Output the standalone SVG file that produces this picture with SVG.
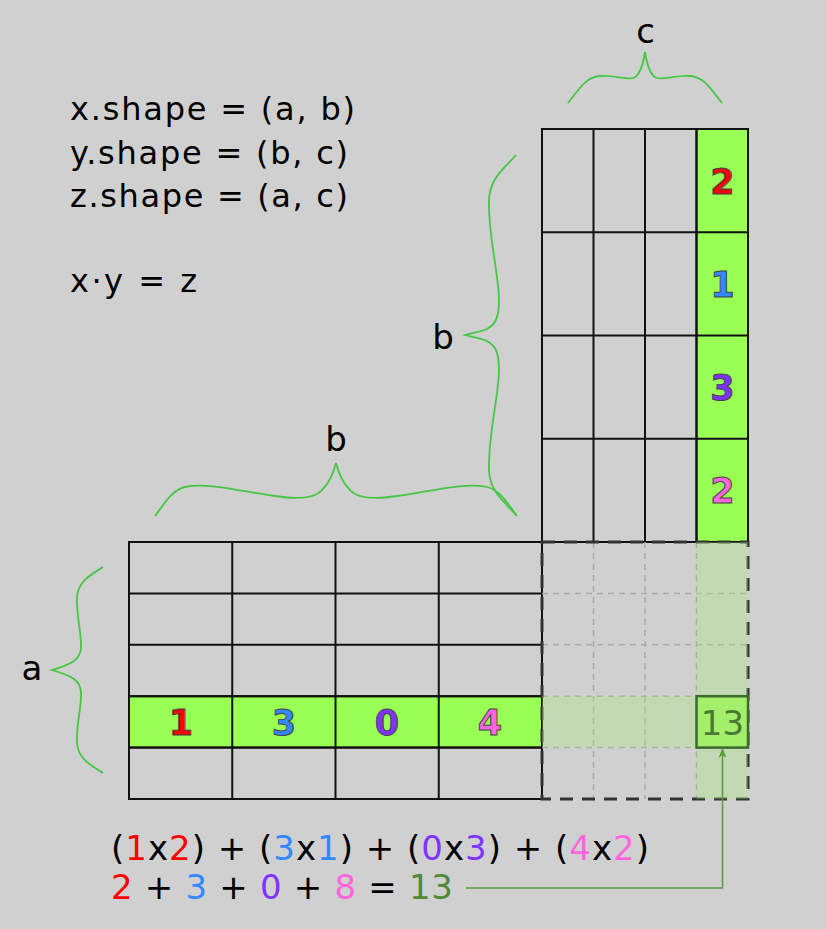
<svg xmlns="http://www.w3.org/2000/svg" width="826" height="929" viewBox="0 0 826 929">
<style>
.t{font-family:"DejaVu Sans","Verdana","Liberation Sans",sans-serif;fill:#000}
.big{font-size:32px}
.lbl{font-size:34px;text-anchor:middle}
.num{font-family:"DejaVu Sans","Verdana",sans-serif;font-weight:bold;font-size:35px;text-anchor:middle;stroke:#444;stroke-width:1}
.grid{stroke:#111;stroke-width:2;fill:none}
.cellg{fill:#99ff55;stroke:#111;stroke-width:2}
.brace{fill:none;stroke:#44c844;stroke-width:1.8}
.inner{stroke:#a9a9a9;stroke-width:1.5;stroke-dasharray:6 5;fill:none}
.hl{fill:#a5ee73;fill-opacity:0.3}
.r{fill:#ff0000}.b{fill:#3388ff}.p{fill:#7f33ff}.k{fill:#ff66dd}.g{fill:#4f8a35}
</style>
<defs>
<marker id="arr" markerWidth="10" markerHeight="12" refX="9" refY="5" orient="auto" markerUnits="userSpaceOnUse">
<path d="M0,1 L10,5 L0,9 L3,5 Z" fill="#5a9a3a"/>
</marker>
</defs>
<rect x="0" y="0" width="826" height="929" fill="#d0d0d0"/>

<g id="shapes-text">
<text class="t big" x="70" y="120" textLength="285">x.shape = (a, b)</text>
<text class="t big" x="70" y="163.5" textLength="278">y.shape = (b, c)</text>
<text class="t big" x="70" y="207" textLength="278">z.shape = (a, c)</text>
<text class="t big" x="70" y="292" textLength="127">x·y = z</text>
</g>

<g id="brace-c">
<path class="brace" d="M568,103 C580,88 586,77 600,76 C615,75 625,80 633,78 C640,76 643,65 645,52 C647,65 650,76 657,78 C665,80 675,75 690,76 C704,77 710,88 722,103"/>
<text class="t lbl" x="645.5" y="43">c</text>
</g>

<g id="brace-b-top">
<path class="brace" d="M155,516 C165,503 172,490 185,487 C205,482 240,491 275,496 C300,500 315,498 322,490 C328,484 333,475 336,463 C339,475 344,484 350,490 C357,498 372,500 397,496 C432,491 467,482 487,487 C500,490 507,503 517,516"/>
<text class="t lbl" x="336" y="451">b</text>
</g>

<g id="brace-b-left">
<path class="brace" d="M516,155 C503,170 490,178 489,200 C488,235 499,275 499,300 C499,320 494,325 487,329 C480,332 472,333 465,335 C472,337 480,338 487,341 C494,345 499,350 499,370 C499,395 488,435 489,470 C490,492 503,500 516,515"/>
<text class="t lbl" x="443" y="349">b</text>
</g>

<g id="brace-a">
<path class="brace" d="M103,567 C90,575 78,582 77,597 C76,615 82,635 81,648 C80,660 72,664 52,670 C72,676 80,680 81,692 C82,705 76,725 77,743 C78,758 90,765 103,773"/>
<text class="t lbl" x="32" y="680">a</text>
</g>

<g id="matrix-x">
<rect class="grid" x="129" y="542" width="413" height="257"/>
<rect class="cellg" x="129" y="696.2" width="413" height="51.4"/>
<path class="grid" d="M232.25,542V799M335.5,542V799M438.75,542V799M129,593.4H542M129,644.8H542M129,696.2H542M129,747.6H542"/>
<text class="num r" x="181" y="735">1</text>
<text class="num b" x="284" y="735">3</text>
<text class="num p" x="387" y="735">0</text>
<text class="num k" x="490" y="735">4</text>
</g>

<g id="matrix-y">
<rect class="grid" x="542" y="129" width="206" height="413"/>
<rect class="cellg" x="696.5" y="129" width="51.5" height="413"/>
<path class="grid" d="M593.5,129V542M645,129V542M696.5,129V542M542,232.25H748M542,335.5H748M542,438.75H748"/>
<text class="num r" x="722.5" y="194">2</text>
<text class="num b" x="722.5" y="297">1</text>
<text class="num p" x="722.5" y="400">3</text>
<text class="num k" x="722.5" y="503">2</text>
</g>

<g id="matrix-z">
<path class="inner" d="M593.5,542V799M645,542V799M696.5,542V799M542,593.4H748M542,644.8H748M542,696.2H748M542,747.6H748"/>
<rect x="542" y="542" width="206" height="257" fill="none" stroke="#333" stroke-width="3" stroke-dasharray="13 9"/>
<rect class="hl" x="696.5" y="542" width="51.5" height="257"/>
<rect class="hl" x="542" y="696.2" width="154.5" height="51.4"/>
<rect x="696.5" y="696.2" width="51.5" height="51.4" fill="#a3ee6a" stroke="#3d6b2d" stroke-width="2.5"/>
<text class="t" x="722.5" y="735" font-size="34" text-anchor="middle" style="fill:#4a7a30">13</text>
</g>

<g id="equation">
<text class="t" x="111" y="860" font-size="34" textLength="538">(<tspan class="r">1</tspan>x<tspan class="r">2</tspan>) + (<tspan class="b">3</tspan>x<tspan class="b">1</tspan>) + (<tspan class="p">0</tspan>x<tspan class="p">3</tspan>) + (<tspan class="k">4</tspan>x<tspan class="k">2</tspan>)</text>
<text class="t" x="111" y="899" font-size="34" textLength="342"><tspan class="r">2</tspan> + <tspan class="b">3</tspan> + <tspan class="p">0</tspan> + <tspan class="k">8</tspan> = <tspan class="g">13</tspan></text>
</g>

<g id="connectors">
<path d="M466,888 H722.5 V749" fill="none" stroke="#5a9a3a" stroke-width="1.5" marker-end="url(#arr)"/>
</g>
</svg>
